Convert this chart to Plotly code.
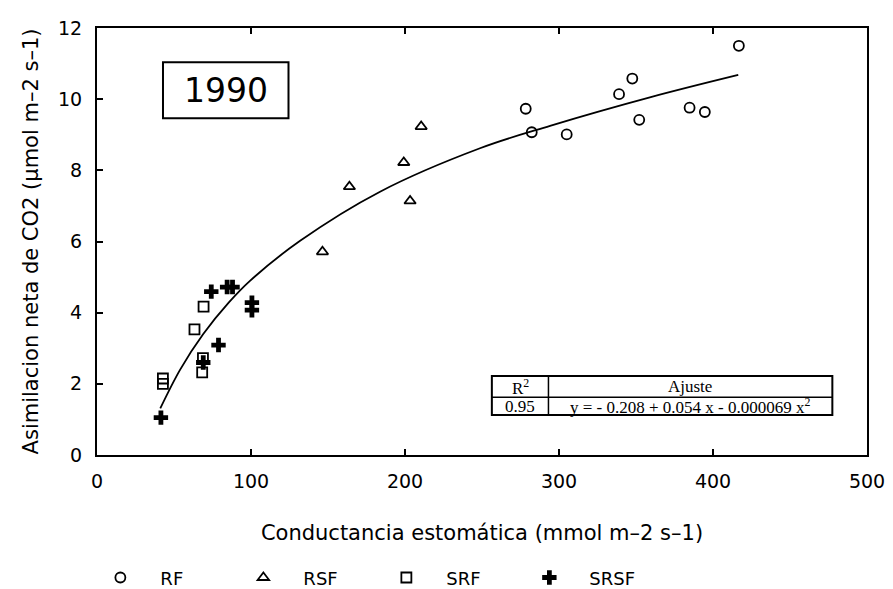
import plotly.graph_objects as go

# ---- data ----
rf_x = [416.8, 278.4, 282.3, 305.0, 339.0, 347.6, 352.1, 384.8, 394.7]
rf_y = [11.50, 9.73, 9.07, 9.01, 10.14, 10.58, 9.42, 9.76, 9.64]

rsf_x = [210.5, 199.2, 163.9, 203.3, 146.4]
rsf_y = [9.23, 8.22, 7.54, 7.14, 5.71]

srf_x = [69.2, 63.3, 68.8, 68.3, 42.8, 42.8]
srf_y = [4.17, 3.53, 2.72, 2.32, 2.15, 2.00]

srsf_x = [74.2, 84.5, 88.0, 100.6, 100.6, 78.9, 69.0, 41.5]
srsf_y = [4.59, 4.72, 4.72, 4.28, 4.07, 3.09, 2.60, 1.05]

fit_x = [41.1, 54.0, 69.0, 85.5, 99.5, 131.9, 183.8, 248.7, 294.2, 359.0, 416.4]
fit_y = [1.31, 2.40, 3.40, 4.28, 4.90, 6.02, 7.40, 8.62, 9.25, 10.05, 10.68]

x_ticks = [0, 100, 200, 300, 400, 500]
y_ticks = [0, 2, 4, 6, 8, 10, 12]

year_label = "1990"
table_head = ["R<sup>2</sup>", "Ajuste"]
table_row = ["0.95", "y = - 0.208 + 0.054 x - 0.000069 x<sup>2</sup>"]

FONT = "DejaVu Sans"
BLK = "black"

fig = go.Figure()

fig.add_trace(go.Scatter(x=fit_x, y=fit_y, mode="lines", line=dict(color=BLK, width=1.8, shape="spline", smoothing=1.0),
                         showlegend=False, hoverinfo="skip"))

fig.add_trace(go.Scatter(x=rf_x, y=rf_y, mode="markers", name="RF",
                         marker=dict(symbol="circle-open", size=10, color=BLK, line=dict(width=1.8))))
fig.add_trace(go.Scatter(x=rsf_x, y=rsf_y, mode="markers", name="RSF",
                         marker=dict(symbol="triangle-up-open", size=10, color=BLK, line=dict(width=1.8))))
fig.add_trace(go.Scatter(x=srf_x, y=srf_y, mode="markers", name="SRF",
                         marker=dict(symbol="square-open", size=10, color=BLK, line=dict(width=1.8))))
fig.add_trace(go.Scatter(x=srsf_x, y=srsf_y, mode="markers", name="SRSF",
                         marker=dict(symbol="cross", size=12, color=BLK, line=dict(width=0))))

axis_common = dict(showgrid=False, zeroline=False, showline=True, linecolor=BLK, linewidth=2,
                   ticks="inside", ticklen=6, tickwidth=1.5, tickcolor=BLK, automargin=False,
                   tickfont=dict(family=FONT, size=19, color=BLK))

fig.update_xaxes(range=[0, 500], tickvals=x_ticks, mirror="ticks", ticklabelstandoff=8,
                 title=dict(text="Conductancia estomática (mmol m–2 s–1)",
                            font=dict(family=FONT, size=21, color=BLK), standoff=35),
                 **axis_common)
fig.update_yaxes(range=[0, 12], tickvals=y_ticks, mirror=True, ticklabelstandoff=9,
                 title=dict(text="Asimilacion neta de CO2 (µmol m–2 s–1)",
                            font=dict(family=FONT, size=21, color=BLK), standoff=14),
                 **axis_common)

shapes = [
    dict(type="rect", xref="paper", yref="paper", x0=0.0857, x1=0.2487, y0=0.7885, y1=0.9197,
         line=dict(color=BLK, width=2), fillcolor="white", layer="below"),
    dict(type="rect", xref="paper", yref="paper", x0=0.5128, x1=0.955, y0=0.0937, y1=0.185,
         line=dict(color=BLK, width=2), fillcolor="white"),
    dict(type="line", xref="paper", yref="paper", x0=0.5128, x1=0.955, y0=0.135, y1=0.135,
         line=dict(color=BLK, width=1.5)),
    dict(type="line", xref="paper", yref="paper", x0=0.5863, x1=0.5863, y0=0.0937, y1=0.185,
         line=dict(color=BLK, width=1.5)),
]

tf = dict(family="Liberation Serif", size=17, color=BLK)
annotations = [
    dict(text=year_label, xref="paper", yref="paper", x=(0.0857 + 0.2487) / 2, y=(0.7885 + 0.9197) / 2,
         showarrow=False, font=dict(family=FONT, size=33, color=BLK), xanchor="center", yanchor="middle"),
    dict(text=table_head[0], xref="paper", yref="paper", x=(0.5128 + 0.5863) / 2, y=0.160,
         showarrow=False, font=tf, xanchor="center", yanchor="middle"),
    dict(text=table_head[1], xref="paper", yref="paper", x=(0.5863 + 0.955) / 2, y=0.160,
         showarrow=False, font=tf, xanchor="center", yanchor="middle"),
    dict(text=table_row[0], xref="paper", yref="paper", x=(0.5128 + 0.5863) / 2, y=0.114,
         showarrow=False, font=tf, xanchor="center", yanchor="middle"),
    dict(text=table_row[1], xref="paper", yref="paper", x=(0.5863 + 0.955) / 2, y=0.114,
         showarrow=False, font=tf, xanchor="center", yanchor="middle"),
]

fig.update_layout(
    width=893, height=589,
    margin=dict(l=97, r=26, t=28, b=134, autoexpand=False),
    paper_bgcolor="white", plot_bgcolor="white",
    shapes=shapes, annotations=annotations,
    showlegend=True,
    legend=dict(orientation="h", x=0.09, xanchor="left", xref="container",
                y=0.019, yanchor="middle", yref="container",
                itemwidth=70, entrywidth=58, entrywidthmode="pixels",
                font=dict(family=FONT, size=18, color=BLK), bgcolor="rgba(0,0,0,0)"),
)

fig.write_html("out.html")
